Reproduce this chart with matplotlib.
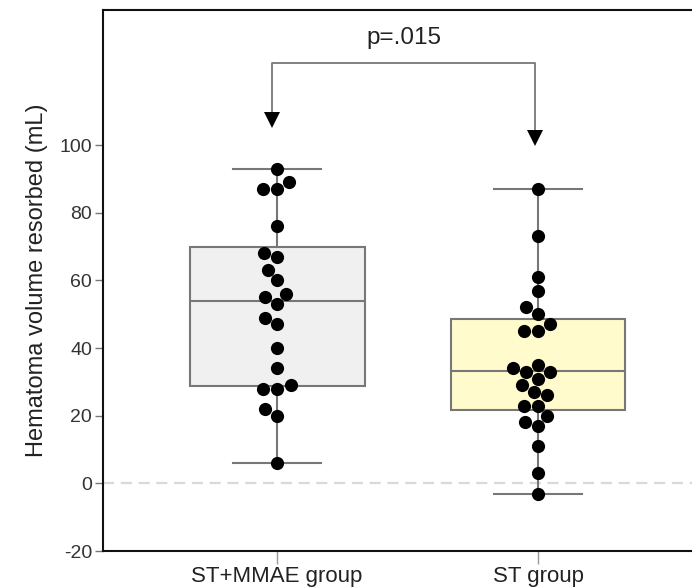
import matplotlib
matplotlib.use("Agg")
import matplotlib.pyplot as plt
import seaborn as sns
import numpy as np
import pandas as pd

groups = ["ST+MMAE group", "ST group"]
mmae_values = [93, 89, 87, 87, 76, 68, 67, 63, 60, 56, 55, 53, 49, 47, 40, 34, 29, 28, 28, 22, 20, 6]
st_values = [87, 73, 61, 57, 52, 50, 47, 45, 45, 35, 34, 33, 33, 31, 29, 27, 26, 23, 23, 20, 18, 17, 11, 3, -3]
# box statistics: q1, median, q3, whisker low, whisker high
q1 = [28.7, 21.6]
medians = [54, 33.1]
q3 = [70, 48.6]
wlo = [6, -3]
whi = [93, 87]
box_colors = ["#f0f0f0", "#fffbcc"]
p_text = "p=.015"
yticks = [-20, 0, 20, 40, 60, 80, 100]

plt.rcParams['font.family'] = ['Liberation Sans', 'DejaVu Sans']

fig = plt.figure(figsize=(6.92, 5.87), dpi=100)
ax = fig.add_axes([0.149, 0.0613, 0.851, 0.922])

# zero reference line
ax.axhline(0, color="#d9d9d9", lw=1.6, ls=(0, (5, 3)), zorder=0)

stats = []
for i in range(2):
    stats.append(dict(med=medians[i], q1=q1[i], q3=q3[i], whislo=wlo[i], whishi=whi[i], fliers=[]))
bp = ax.bxp(stats, positions=[0, 1], widths=0.67, patch_artist=True, showfliers=False,
            boxprops=dict(edgecolor="#777777", linewidth=1.5),
            medianprops=dict(color="#777777", linewidth=1.5),
            whiskerprops=dict(color="#777777", linewidth=1.5),
            capprops=dict(color="#777777", linewidth=1.5), capwidths=0.335, zorder=1)
for patch, c in zip(bp['boxes'], box_colors):
    patch.set_facecolor(c)

df = pd.DataFrame({
    "group": [groups[0]] * len(mmae_values) + [groups[1]] * len(st_values),
    "value": mmae_values + st_values,
})
sns.swarmplot(data=df, x="group", y="value", order=groups, color="black", size=9.5,
              ax=ax, zorder=3, linewidth=0)

# significance bracket
y_bar = 124.3
tips = [105.3, 100.0]
xs = [-0.018, 0.987]
ax.plot([xs[0], xs[0], xs[1], xs[1]], [tips[0] + 4, y_bar, y_bar, tips[1] + 4], color="#777777", lw=1.3, zorder=2)
for xx, tp in zip(xs, tips):
    ax.plot([xx], [tp + 2.2], marker="v", color="black", markersize=12, markeredgewidth=0, zorder=4)
ax.text(np.mean(xs), 128.5, p_text, ha="center", va="bottom", fontsize=17.5, color="#222222")

ax.set_xlim(-0.667, 1.59)
ax.set_ylim(-20, 140)
ax.set_yticks(yticks)
ax.set_yticklabels([str(t) for t in yticks], fontsize=14, color="#333333")
ax.set_xticks([0, 1])
ax.set_xticklabels(groups, fontsize=16, color="#222222")
ax.tick_params(axis="y", length=6, color="#777777", width=1, pad=2)
ax.tick_params(axis="x", length=9, color="#999999", width=1, pad=2)
ax.set_xlabel("")
ax.set_ylabel("Hematoma volume resorbed (mL)", fontsize=17, color="#222222", labelpad=8)
for s in ["left", "bottom", "top"]:
    ax.spines[s].set_color("#111111")
    ax.spines[s].set_linewidth(1.5)
ax.spines["right"].set_visible(False)

fig.savefig("out.png", dpi=100)
